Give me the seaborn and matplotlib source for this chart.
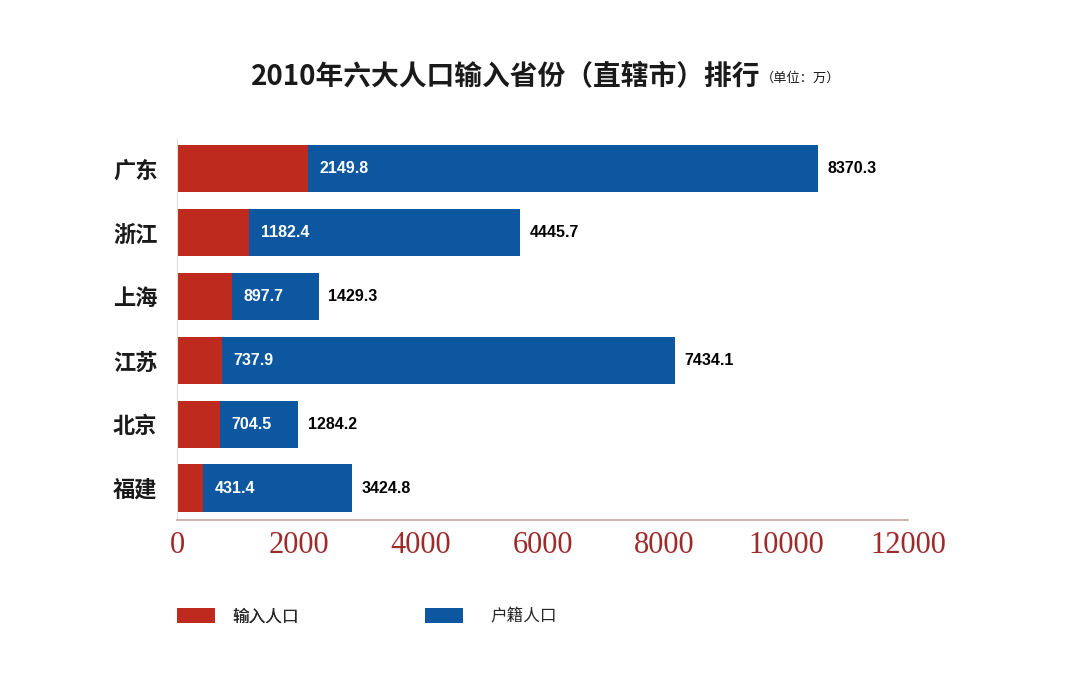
import numpy as np
import pandas as pd
import matplotlib
matplotlib.use("Agg")
import matplotlib.pyplot as plt
from matplotlib.patches import Patch
import seaborn as sns

# data (unit: 10k people)
provinces = ['广东', '浙江', '上海', '江苏', '北京', '福建']
inflow = [2149.8, 1182.4, 897.7, 737.9, 704.5, 431.4]
registered = [8370.3, 4445.7, 1429.3, 7434.1, 1284.2, 3424.8]
# blue segment lengths as drawn in the picture (福建 bar is shorter than its label)
registered_bar = [8370.3, 4445.7, 1429.3, 7434.1, 1284.2, 2434.0]
x_ticks = [0, 2000, 4000, 6000, 8000, 10000, 12000]

red = '#bf2a1f'
blue = '#0d56a0'
axis_col = '#cfaaa3'

sns.set_theme(style='white')
plt.rcParams['font.family'] = ['Noto Sans CJK SC', 'DejaVu Sans']

df = pd.DataFrame({'province': provinces, 'inflow': inflow,
                   'registered': registered, 'registered_bar': registered_bar})
df['total'] = df['inflow'] + df['registered_bar']

fig = plt.figure(figsize=(10.8, 6.97), dpi=100)
ax = fig.add_axes([177/1080, 1 - 520/697, (908-177)/1080, (520-138)/697])

# full bar in blue, inflow part drawn over it in red
sns.barplot(data=df, x='total', y='province', color=blue, width=0.74,
            saturation=1, linewidth=0, ax=ax, orient='h')
sns.barplot(data=df, x='inflow', y='province', color=red, width=0.74,
            saturation=1, linewidth=0, ax=ax, orient='h')

for i, row in df.iterrows():
    ax.text(row['inflow'] + 190, i, f"{row['inflow']:.1f}", color='white',
            va='center', ha='left', fontsize=11.5, fontweight='bold',
            family='Liberation Sans')
    ax.text(row['total'] + 160, i, f"{row['registered']:.1f}", color='black',
            va='center', ha='left', fontsize=11.5, fontweight='bold',
            family='Liberation Sans')

ax.set_xlim(0, 12000)
ax.set_ylim(5.5, -0.48)
ax.set_xlabel('')
ax.set_ylabel('')
ax.set_xticks(x_ticks)
ax.set_xticklabels([str(t) for t in x_ticks], family='Liberation Serif',
                   fontsize=22, color='#9e2b2b')
ax.tick_params(axis='x', direction='in', length=8, width=1, color=axis_col, pad=8)
ax.tick_params(axis='y', length=0, pad=14)
for lab in ax.get_yticklabels():
    lab.set_fontsize(16)
    lab.set_fontweight('bold')
    lab.set_color('#1a1a1a')

for s in ['top', 'right']:
    ax.spines[s].set_visible(False)
ax.spines['bottom'].set_color(axis_col)
ax.spines['left'].set_color('#dddddd')
ax.spines['left'].set_linewidth(0.8)

# title
fig.text(760/1080, 1 - 84/697, '2010年六大人口输入省份（直辖市）排行', ha='right',
         va='baseline', fontsize=20, fontweight='bold', color='#1a1a1a')
fig.text(761/1080, 1 - 82/697, '（单位：万）', ha='left', va='baseline',
         fontsize=9.5, color='#1a1a1a')

leg_y = 1 - 617/697
leg1 = fig.legend(handles=[Patch(facecolor=red, edgecolor='none', label='输入人口')],
                  loc='center left', bbox_to_anchor=(177/1080, leg_y), frameon=False,
                  fontsize=12, handlelength=2.3, handleheight=1.0, handletextpad=1.0,
                  borderpad=0, borderaxespad=0)
fig.add_artist(leg1)
fig.legend(handles=[Patch(facecolor=blue, edgecolor='none', label='户籍人口')],
           loc='center left', bbox_to_anchor=(425/1080, leg_y), frameon=False,
           fontsize=12, handlelength=2.3, handleheight=1.0, handletextpad=1.6,
           borderpad=0, borderaxespad=0)

fig.savefig('out.png', dpi=100, facecolor='white')
